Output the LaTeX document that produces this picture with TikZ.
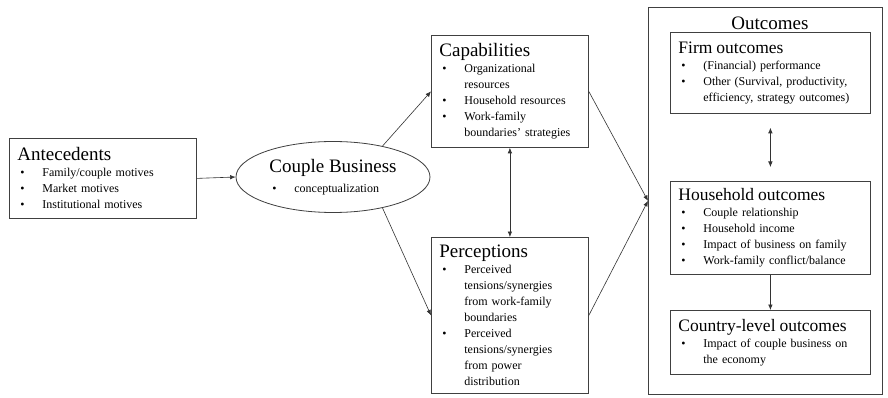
\documentclass[tikz,border=0pt]{standalone}
\usepackage{fontspec}
\setmainfont{Liberation Serif}
\usetikzlibrary{arrows.meta,positioning,shapes.geometric}

\newcommand{\hd}[1]{{\fontsize{19}{22}\selectfont #1\par}}
\newcommand{\subhd}[1]{{\fontsize{17.5}{21}\selectfont #1\par}}
\newcommand{\bul}[1]{\par\noindent\hangindent=25pt\hangafter=1\makebox[25pt][l]{\hspace{3pt}\textbullet}#1\par}

\tikzset{
  panel/.style={draw=black!75, line width=0.8pt, anchor=north west, align=left,
    font=\fontsize{12}{16}\selectfont, inner xsep=8pt, inner ysep=2pt, text width=#1},
  arr/.style={draw=black!80, line width=0.6pt, -{Latex[length=5.5pt,width=4.5pt]}},
  dblarr/.style={draw=black!80, line width=0.6pt, {Latex[length=5.5pt,width=4.5pt]}-{Latex[length=5.5pt,width=4.5pt]}}
}

\begin{document}
\begin{tikzpicture}[x=1pt,y=-1pt]
\useasboundingbox[fill=white] (0,0) rectangle (888,398);

% left part
\node[panel=171pt, minimum height=80pt] (ante) at (9,138) {\hd{Antecedents}\bul{Family/couple motives}\bul{Market motives}\bul{Institutional motives}};

\node[ellipse, draw=black!75, line width=0.8pt, minimum width=194pt, minimum height=71pt, inner sep=0pt, align=left] (cb) at (333,177)
  {{\fontsize{19}{22}\selectfont Couple Business}\\[7pt]{\fontsize{12}{14}\selectfont\hspace*{3pt}\makebox[22pt][l]{\textbullet}conceptualization}};

% middle part
\node[panel=141pt, minimum height=112pt] (cap) at (431,35) {\hd{Capabilities}\bul{Organizational\newline resources}\bul{Household resources}\bul{Work-family\newline boundaries' strategies}};

\node[panel=141pt, minimum height=156pt] (perc) at (431,237) {\hd{Perceptions}\bul{Perceived\newline tensions/synergies\newline from work-family\newline boundaries}\bul{Perceived\newline tensions/synergies\newline from power\newline distribution}};

% outcomes
\node[draw=black!75, line width=0.8pt, anchor=north west, minimum width=234pt, minimum height=387pt, inner sep=0pt] (outc) at (648,7) {};
\node[anchor=base, font=\fontsize{19}{22}\selectfont] (outtitle) at (770,30) {Outcomes};

\node[panel=184pt, minimum height=81pt] (firm) at (670,32) {\subhd{Firm outcomes}\bul{(Financial) performance}\bul{Other (Survival, productivity,\newline efficiency, strategy outcomes)}};

\node[panel=184pt, minimum height=93pt] (house) at (670,181) {\subhd{Household outcomes}\bul{Couple relationship}\bul{Household income}\bul{Impact of business on family}\bul{Work-family conflict/balance}};

\node[panel=184pt, minimum height=64pt] (country) at (670,310) {\subhd{Country-level outcomes}\bul{Impact of couple business on\newline the economy}};

% connectors
\draw[arr] (ante.east) -- (cb.west);
\draw[arr] (cb.32) -- (cap.west);
\draw[arr] (cb.-32) -- (perc.west);
\draw[dblarr] (cap.south) -- (perc.north);
\draw[arr] (cap.east) -- (outc.west);
\draw[arr] (perc.east) -- (outc.west);
\draw[dblarr, shorten <=14pt, shorten >=14pt] (firm.south) -- (house.north);
\draw[arr] (house.south) -- (country.north);

\end{tikzpicture}
\end{document}
